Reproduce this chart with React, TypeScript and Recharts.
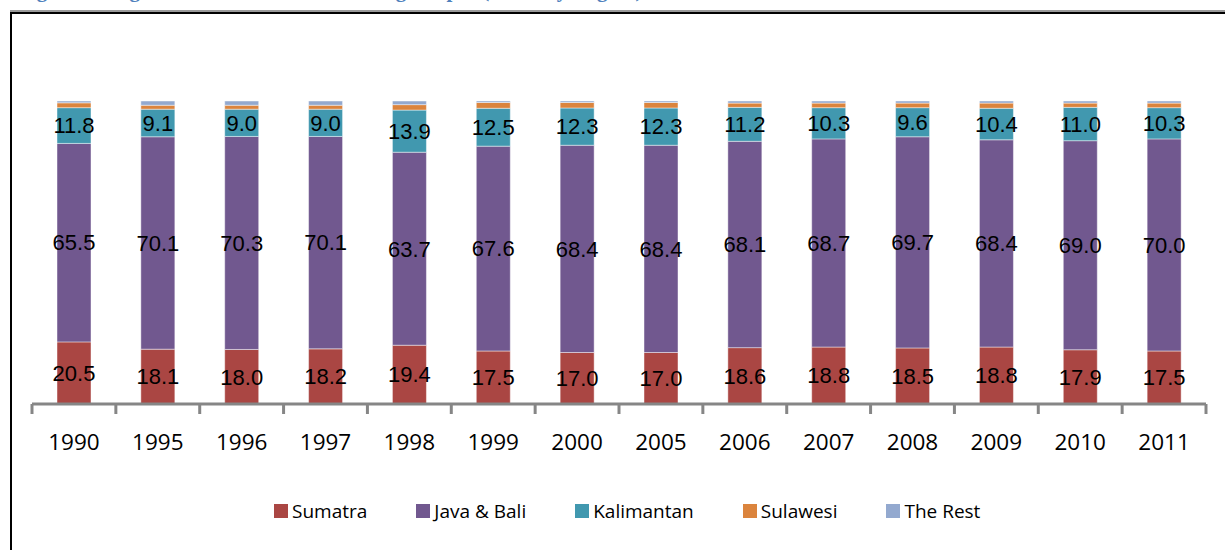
import React from 'react';
import { BarChart, Bar, XAxis, YAxis, LabelList } from 'recharts';

const years = ['1990', '1995', '1996', '1997', '1998', '1999', '2000', '2005', '2006', '2007', '2008', '2009', '2010', '2011'];
const sumatra = [20.5, 18.1, 18.0, 18.2, 19.4, 17.5, 17.0, 17.0, 18.6, 18.8, 18.5, 18.8, 17.9, 17.5];
const javaBali = [65.5, 70.1, 70.3, 70.1, 63.7, 67.6, 68.4, 68.4, 68.1, 68.7, 69.7, 68.4, 69.0, 70.0];
const kalimantan = [11.8, 9.1, 9.0, 9.0, 13.9, 12.5, 12.3, 12.3, 11.2, 10.3, 9.6, 10.4, 11.0, 10.3];
const sulawesi = [1.6, 1.3, 1.3, 1.3, 1.8, 1.9, 1.8, 1.8, 1.4, 1.5, 1.5, 1.7, 1.4, 1.5];
const theRest = [0.6, 1.4, 1.4, 1.4, 1.2, 0.5, 0.5, 0.5, 0.7, 0.7, 0.7, 0.7, 0.7, 0.7];

const seriesNames = ['Sumatra', 'Java & Bali', 'Kalimantan', 'Sulawesi', 'The Rest'];
const seriesKeys = ['sumatra', 'java', 'kalimantan', 'sulawesi', 'rest'];
const seriesColors = ['#AA4643', '#71588F', '#4198AF', '#DB843D', '#93A9CF'];
const titleText = 'Figure 3: Regional Share of Manufacturing Output (Industry Region)';

const data = years.map((y, i) => ({
  year: y,
  sumatra: sumatra[i],
  java: javaBali[i],
  kalimantan: kalimantan[i],
  sulawesi: sulawesi[i],
  rest: theRest[i],
}));

const W = 1225;
const H = 550;
const M_LEFT = 32;
const M_RIGHT = 19;
const PLOT_W = W - M_LEFT - M_RIGHT;
const BW = PLOT_W / years.length;

const AXIS_COLOR = '#868686';
const tickFont = '"Open Sans", sans-serif';

const CustomTick = (props: any) => {
  const { x, y, payload, index } = props;
  const left = x - BW / 2;
  const right = x + BW / 2;
  return (
    <g>
      <line x1={left} y1={y} x2={left} y2={y + 10} stroke={AXIS_COLOR} strokeWidth={3} />
      {index === years.length - 1 && (
        <line x1={right} y1={y} x2={right} y2={y + 10} stroke={AXIS_COLOR} strokeWidth={3} />
      )}
      <text
        x={x}
        y={y + 37}
        textAnchor="middle"
        dominantBaseline="central"
        fontFamily={tickFont}
        fontSize={22.5}
        fill="#000"
      >
        {payload.value}
      </text>
    </g>
  );
};

const fmt = (v: any) => Number(v).toFixed(1);

export default function App() {
  const labelStyle = { fontFamily: '"Liberation Sans", Arial, sans-serif', fontSize: 22, fill: '#000' };
  return (
    <div style={{ position: 'absolute', left: 0, top: 0, width: W, height: H, overflow: 'hidden', background: '#fff' }}>
      <div
        style={{
          position: 'absolute',
          left: 18,
          top: -20,
          whiteSpace: 'nowrap',
          fontFamily: '"Liberation Serif", "DejaVu Serif", serif',
          fontWeight: 'bold',
          fontSize: 21,
          lineHeight: '21px',
          color: '#4F81BD',
        }}
      >
        {titleText}
      </div>
      <div style={{ position: 'absolute', left: 10, top: 10, width: W, height: 2, background: '#9a9a9a' }} />
      <div
        style={{
          position: 'absolute',
          left: 10,
          top: 12,
          width: W,
          height: H,
          borderTop: '2px solid #000',
          borderLeft: '2px solid #000',
          boxSizing: 'border-box',
        }}
      />
      <div style={{ position: 'absolute', left: 0, top: 0 }}>
        <BarChart
          width={W}
          height={H}
          data={data}
          stackOffset="expand"
          barSize={34}
          margin={{ top: 101, right: M_RIGHT, left: M_LEFT, bottom: 86 }}
        >
          <YAxis hide domain={[0, 1]} />
          <XAxis
            dataKey="year"
            height={60}
            axisLine={{ stroke: AXIS_COLOR, strokeWidth: 3 }}
            tickLine={false}
            tickSize={0}
            tickMargin={0}
            interval={0}
            tick={<CustomTick />}
          />
          {seriesKeys.map((k, i) => (
            <Bar
              key={k}
              dataKey={k}
              name={seriesNames[i]}
              stackId="a"
              fill={seriesColors[i]}
              stroke="rgba(255,255,255,0.45)"
              strokeWidth={1}
              isAnimationActive={false}
            >
              {i < 3 && (
                <LabelList dataKey={k} position="center" formatter={fmt} style={labelStyle} />
              )}
            </Bar>
          ))}
        </BarChart>
      </div>
      <div
        style={{
          position: 'absolute',
          left: 274,
          top: 498,
          display: 'flex',
          alignItems: 'center',
          fontFamily: '"Open Sans", sans-serif',
          fontSize: 19,
          lineHeight: '26px',
          color: '#000',
          whiteSpace: 'nowrap',
        }}
      >
        {seriesNames.map((n, i) => (
          <div key={n} style={{ display: 'flex', alignItems: 'center', marginRight: i < seriesNames.length - 1 ? 49 : 0 }}>
            <div style={{ width: 14, height: 14, background: seriesColors[i], marginRight: 4 }} />
            <span>{n}</span>
          </div>
        ))}
      </div>
    </div>
  );
}
